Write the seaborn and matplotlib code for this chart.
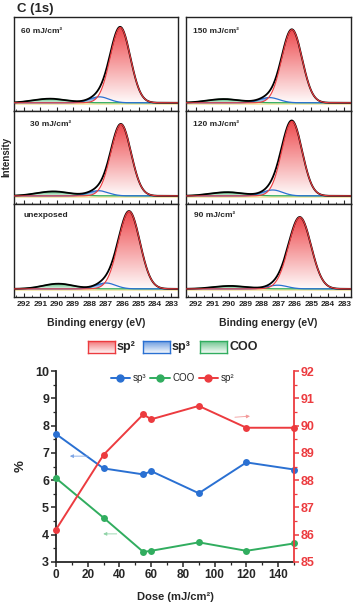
import numpy as np
import pandas as pd
import matplotlib
matplotlib.use("Agg")
import matplotlib.pyplot as plt
import seaborn as sns
from matplotlib.colors import LinearSegmentedColormap
from matplotlib.ticker import MultipleLocator
from matplotlib.lines import Line2D

# ---------------- data ----------------
panel_labels = ["60 mJ/cm²", "150 mJ/cm²", "30 mJ/cm²", "120 mJ/cm²", "unexposed", "90 mJ/cm²"]
sp2_center = [286.12, 286.18, 286.08, 286.18, 285.58, 285.70]
sp2_height = [1.01, 0.98, 0.97, 1.01, 1.05, 0.97]
sp2_fwhm = [1.45, 1.45, 1.45, 1.45, 1.55, 1.60]
sp3_center = [287.40, 287.55, 287.45, 287.35, 287.00, 287.05]
sp3_height = [0.08, 0.07, 0.07, 0.08, 0.08, 0.05]
sp3_fwhm = [1.4, 1.4, 1.4, 1.4, 1.4, 1.4]
coo_center = [290.4, 290.3, 290.2, 290.1, 289.9, 289.9]
coo_height = [0.055, 0.05, 0.06, 0.05, 0.07, 0.04]
coo_fwhm = [2.4, 2.4, 2.4, 2.4, 2.2, 2.4]
be_ticks = [292, 291, 290, 289, 288, 287, 286, 285, 284, 283]

dose = [0, 30, 55, 60, 90, 120, 150]
sp3_pct = [7.69, 6.43, 6.21, 6.33, 5.52, 6.65, 6.39]
coo_pct = [6.07, 4.62, 3.37, 3.41, 3.72, 3.41, 3.68]
sp2_pct = [86.19, 88.93, 90.41, 90.23, 90.72, 89.92, 89.92]

# ---------------- style ----------------
sns.set_style("ticks")
plt.rcParams["font.family"] = ["Liberation Sans", "DejaVu Sans"]
plt.rcParams["font.weight"] = "bold"

RED = "#ec3b3f"
BLUE = "#2a70d2"
GREEN = "#31ad5f"
W, H = 354, 609
fig = plt.figure(figsize=(W / 100, H / 100), dpi=100)


def fx(px):
    return px / W


def fy(py):
    return 1 - py / H


def gauss(x, c, h, fwhm):
    s = fwhm / 2.3548
    return h * np.exp(-0.5 * ((x - c) / s) ** 2)


def grad_fill(ax, x, y, color, lo=0.05, hi=1.0):
    poly = ax.fill_between(x, 0, y, facecolor="none", edgecolor="none")
    cmap = LinearSegmentedColormap.from_list("g", [(1, 1, 1), color])
    grad = np.linspace(lo, hi, 256).reshape(-1, 1)
    im = ax.imshow(grad, extent=[x.min(), x.max(), 0, y.max()], origin="lower",
                   aspect="auto", cmap=cmap, vmin=0, vmax=1, zorder=1)
    im.set_clip_path(poly.get_paths()[0], transform=ax.transData)


col_x = [(14, 178), (186, 351)]
row_y = [(17, 111), (111, 204), (204, 297)]
label_pos = [(0.04, 0.85), (0.045, 0.85), (0.10, 0.86), (0.045, 0.86), (0.055, 0.88), (0.05, 0.88)]

x = np.linspace(282.6, 292.6, 500)
for i in range(6):
    r, c = divmod(i, 2)
    x0, x1 = col_x[c]
    y0, y1 = row_y[r]
    ax = fig.add_axes([fx(x0), fy(y1), fx(x1) - fx(x0), fy(y0) - fy(y1)])
    ysp2 = gauss(x, sp2_center[i], sp2_height[i], sp2_fwhm[i])
    ysp3 = gauss(x, sp3_center[i], sp3_height[i], sp3_fwhm[i])
    ycoo = gauss(x, coo_center[i], coo_height[i], coo_fwhm[i])
    env = ysp2 + ysp3 + ycoo
    ax.plot(x, np.full_like(x, -0.014), color="#f3eab0", lw=1.4, zorder=1)
    grad_fill(ax, x, ycoo, GREEN, 0.12, 0.85)
    grad_fill(ax, x, ysp3, BLUE, 0.12, 0.9)
    grad_fill(ax, x, ysp2, RED, 0.02, 0.92)
    df = pd.DataFrame({"be": x, "sp2": ysp2, "sp3": ysp3, "coo": ycoo, "env": env})
    sns.lineplot(data=df, x="be", y="coo", color=GREEN, lw=0.9, ax=ax, sort=False, zorder=3)
    sns.lineplot(data=df, x="be", y="sp3", color=BLUE, lw=0.9, ax=ax, sort=False, zorder=3)
    sns.lineplot(data=df, x="be", y="env", color="black", lw=1.3, ax=ax, sort=False, zorder=4)
    sns.lineplot(data=df, x="be", y="sp2", color=RED, lw=0.8, ax=ax, sort=False, zorder=5)
    ax.set_xlim(292.6, 282.6)
    ax.set_ylim(-0.11, 1.15)
    ax.set_xlabel("")
    ax.set_ylabel("")
    ax.set_yticks([])
    ax.set_xticks(be_ticks)
    ax.xaxis.set_minor_locator(MultipleLocator(0.5))
    ax.tick_params(axis="x", which="major", direction="in", length=3, width=0.8,
                   labelsize=6, pad=3)
    ax.tick_params(axis="x", which="minor", direction="in", length=1.5, width=0.6)
    if r < 2:
        ax.set_xticklabels([])
    else:
        ax.set_xticklabels([str(t) for t in be_ticks], fontweight="bold")
        ax.set_xlabel("Binding energy (eV)", fontsize=7.5, fontweight="bold", labelpad=7)
    for s in ax.spines.values():
        s.set_linewidth(1.0)
        s.set_color("#222222")
    lx, ly = label_pos[i]
    ax.text(lx, ly, panel_labels[i], transform=ax.transAxes, fontsize=6,
            fontweight="bold", ha="left", va="center")

fig.text(fx(17), fy(9), "C (1s)", fontsize=9.5, fontweight="bold", ha="left", va="center")
fig.text(fx(6), fy(157), "Intensity", fontsize=7, fontweight="bold", rotation=90,
         ha="center", va="center")

# ---------------- middle legend ----------------
leg_items = [("sp²", RED, 88), ("sp³", BLUE, 143), ("COO", GREEN, 200)]
for name, colr, px in leg_items:
    bw, bh = 27, 12
    lax = fig.add_axes([fx(px), fy(353), fx(bw), bh / H])
    cmap = LinearSegmentedColormap.from_list("g", [(1, 1, 1), colr])
    lax.imshow(np.linspace(0.05, 0.7, 64).reshape(-1, 1), aspect="auto", cmap=cmap,
               vmin=0, vmax=1, origin="lower", extent=[0, 1, 0, 1])
    lax.set_xticks([])
    lax.set_yticks([])
    for s in lax.spines.values():
        s.set_color(colr)
        s.set_linewidth(1.0)
    fig.text(fx(px + bw + 2), fy(347), name, fontsize=9, fontweight="bold",
             ha="left", va="center")

# ---------------- bottom chart ----------------
bx0, bx1, by0, by1 = 56, 294, 371, 562
ax = fig.add_axes([fx(bx0), fy(by1), fx(bx1) - fx(bx0), fy(by0) - fy(by1)])
ax2 = ax.twinx()
bdf = pd.DataFrame({"dose": dose, "sp3": sp3_pct, "coo": coo_pct, "sp2": sp2_pct})
sns.lineplot(data=bdf, x="dose", y="sp3", color=BLUE, marker="o", markersize=5,
             markeredgewidth=0, lw=1.4, ax=ax, clip_on=False, zorder=3)
sns.lineplot(data=bdf, x="dose", y="coo", color=GREEN, marker="o", markersize=5,
             markeredgewidth=0, lw=1.4, ax=ax, clip_on=False, zorder=3)
sns.lineplot(data=bdf, x="dose", y="sp2", color=RED, marker="o", markersize=5,
             markeredgewidth=0, lw=1.4, ax=ax2, clip_on=False, zorder=3)

ax.set_xlim(0, 150)
ax.set_ylim(3, 10)
ax2.set_ylim(85, 92)
ax.set_xticks([0, 20, 40, 60, 80, 100, 120, 140])
ax.xaxis.set_minor_locator(MultipleLocator(10))
ax.yaxis.set_minor_locator(MultipleLocator(0.5))
ax2.yaxis.set_minor_locator(MultipleLocator(0.5))
ax.set_xlabel("Dose (mJ/cm²)", fontsize=8, fontweight="bold", labelpad=8)
ax.set_ylabel("%", fontsize=9.5, fontweight="bold", labelpad=6)
ax2.set_ylabel("")
for t in ax.get_xticklabels() + ax.get_yticklabels():
    t.set_fontweight("bold")
for t in ax2.get_yticklabels():
    t.set_fontweight("bold")
ax.tick_params(axis="both", which="major", direction="out", length=3.5, width=1.1,
               labelsize=9, pad=1.5)
ax.tick_params(axis="both", which="minor", direction="out", length=2, width=0.9)
ax.tick_params(axis="x", labelsize=8.5)
ax2.tick_params(axis="y", which="major", direction="out", length=3.5, width=1.1,
                labelsize=9, colors=RED, pad=1.5)
ax2.tick_params(axis="y", which="minor", direction="out", length=2, width=0.9, colors=RED)
for a in (ax, ax2):
    a.spines["top"].set_visible(False)
ax.spines["right"].set_visible(False)
ax.spines["left"].set_linewidth(1.3)
ax.spines["bottom"].set_linewidth(1.3)
ax2.spines["left"].set_visible(False)
ax2.spines["bottom"].set_visible(False)
ax2.spines["right"].set_color(RED)
ax2.spines["right"].set_linewidth(1.3)

handles = [Line2D([], [], color=BLUE, marker="o", markersize=5, lw=1.4),
           Line2D([], [], color=GREEN, marker="o", markersize=5, lw=1.4),
           Line2D([], [], color=RED, marker="o", markersize=5, lw=1.4)]
if ax.get_legend():
    ax.get_legend().remove()
ax2.legend(handles, ["sp³", "COO", "sp²"], loc="upper center", bbox_to_anchor=(0.49, 1.035),
           ncol=3, frameon=False, handlelength=2.0, handletextpad=0.3,
           columnspacing=0.4, prop={"weight": "normal", "size": 7})

ax.annotate("", xy=(7, 6.88), xytext=(22, 6.88),
            arrowprops=dict(arrowstyle="-|>", color="#7fa6e6", lw=0.6, mutation_scale=5))
ax.annotate("", xy=(28, 4.03), xytext=(40, 4.03),
            arrowprops=dict(arrowstyle="-|>", color="#8fd3a6", lw=0.6, mutation_scale=5))
ax2.annotate("", xy=(124, 90.35), xytext=(111, 90.3),
             arrowprops=dict(arrowstyle="-|>", color="#f39a9a", lw=0.6, mutation_scale=5))

fig.savefig("out.png", dpi=100)
